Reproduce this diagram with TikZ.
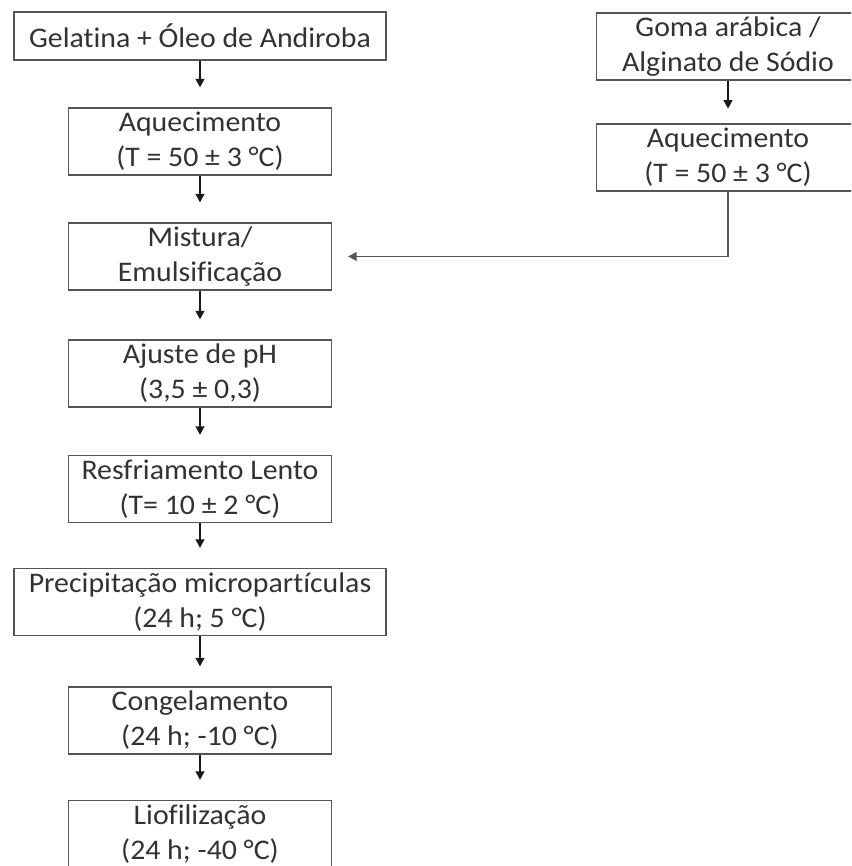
\documentclass[tikz,border=0pt]{standalone}
\usepackage{fontspec}
\setmainfont{Carlito}[Ligatures=NoCommon,FakeStretch=1.05]
\usetikzlibrary{arrows.meta,positioning}
\definecolor{boxline}{RGB}{85,85,85}
\definecolor{boxtext}{RGB}{50,50,50}
\definecolor{flowline}{RGB}{25,25,25}

\begin{document}
\begin{tikzpicture}[x=0.75pt,y=-0.75pt,
  stepbox/.style={draw=boxline,line width=1.1pt,text=boxtext,align=center,
    font=\fontsize{21.3}{26.25}\selectfont,inner sep=0pt,
    minimum width=197pt,minimum height=50pt},
  widebox/.style={stepbox,minimum width=279pt},
  flow/.style={draw=flowline,line width=1.7pt,
    -{Triangle[length=6.5pt,width=6.5pt]},shorten >=15pt}]
\useasboundingbox (0,0) rectangle (851,866);
\clip (0,0) rectangle (851,866);

% Left column: main process
\node[widebox,minimum height=36pt] (gel) at (200,36) {Gelatina + Óleo de Andiroba};
\node[stepbox] (aq1) at (200,141.5) {Aquecimento\\(T = 50 ± 3 °C)};
\node[stepbox] (mix) at (200,256.5) {Mistura/\\Emulsificação};
\node[stepbox] (ph) at (200,373.5) {Ajuste de pH\\(3,5 ± 0,3)};
\node[stepbox] (resf) at (200,489) {Resfriamento Lento\\(T= 10 ± 2 °C)};
\node[widebox] (prec) at (200,602) {Precipitação micropartículas\\(24 h; 5 °C)};
\node[stepbox] (cong) at (200,720.5) {Congelamento\\(24 h; -10 °C)};
\node[stepbox] (lio) at (200,834) {Liofilização\\(24 h; -40 °C)};

% Right column: wall material
\node[stepbox] (goma) at (728,46.5) {Goma arábica /\\Alginato de Sódio};
\node[stepbox] (aq2) at (728,157.5) {Aquecimento\\(T = 50 ± 3 °C)};
\coordinate[right=12pt of mix] (mixin);

% Arrows
\draw[flow] (gel) -- (aq1);
\draw[flow] (aq1) -- (mix);
\draw[flow] (mix) -- (ph);
\draw[flow] (ph) -- (resf);
\draw[flow] (resf) -- (prec);
\draw[flow] (prec) -- (cong);
\draw[flow] (cong) -- (lio);
\draw[flow,shorten >=11pt] (goma) -- (aq2);
\draw[flow,draw=boxline,line width=1.3pt,shorten >=0pt] (aq2.south) |- (mixin);
\end{tikzpicture}
\end{document}
